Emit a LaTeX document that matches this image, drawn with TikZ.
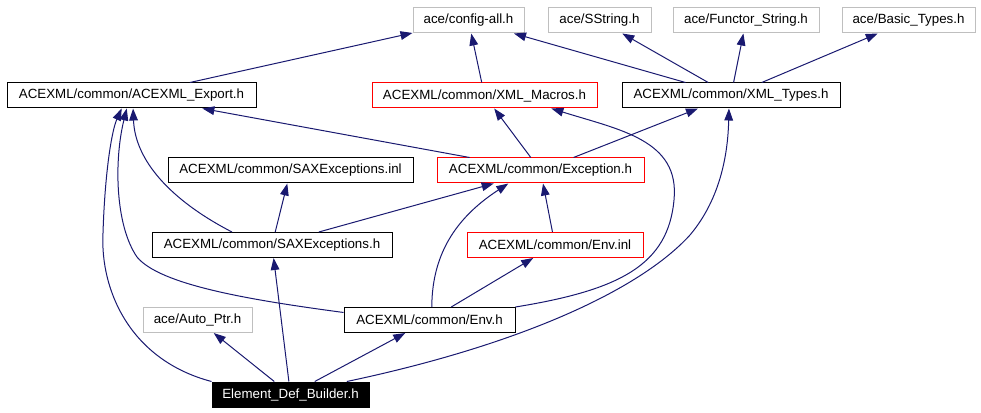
\documentclass[tikz,border=0pt]{standalone}
\usepackage{fontspec}
\setmainfont{Liberation Sans}
\usetikzlibrary{arrows.meta,positioning}
\definecolor{edgeblue}{RGB}{25,25,112}
\definecolor{extgray}{RGB}{191,191,191}
\tikzset{
    file/.style={
        rectangle,
        draw=black,
        fill=white,
        line width=0.75pt,
        minimum height=18.75pt,
        inner sep=0pt,
        font=\fontsize{10pt}{12pt}\selectfont,
    },
    ext/.style={
        file,
        draw=extgray,
    },
    bad/.style={
        file,
        draw=red,
    },
    root/.style={
        file,
        fill=black,
        text=white,
    },
    bw/.style={
        minimum width=#1*0.75pt
    },
    dep/.style={
        draw=edgeblue,
        -{Triangle[length=9pt,width=6.5pt]},
        line width=0.75pt,
    },
    every edge/.style={
        dep
    },
}

\begin{document}
\begin{tikzpicture}[x=0.75pt,y=-0.75pt]
    \useasboundingbox (0,0) rectangle (981,413);

    % included files
    \node [ext, bw=111] (Cfg) at (468.5,20.5) {ace/config-all.h};
    \node [ext, bw=103] (SStr) at (599.5,20.5) {ace/SString.h};
    \node [ext, bw=146] (Fun) at (746,20.5) {ace/Functor\_String.h};
    \node [ext, bw=133] (Basic) at (908.5,20.5) {ace/Basic\_Types.h};

    \node [file, bw=249] (Exp) at (131.5,95.5) {ACEXML/common/ACEXML\_Export.h};
    \node [bad, bw=225] (Mac) at (484.5,95.5) {ACEXML/common/XML\_Macros.h};
    \node [file, bw=218] (Typ) at (731,95.5) {ACEXML/common/XML\_Types.h};

    \node [file, bw=245] (SaxInl) at (290.5,170.5) {ACEXML/common/SAXExceptions.inl};
    \node [bad, bw=207] (Exc) at (540.5,170.5) {ACEXML/common/Exception.h};

    \node [file, bw=240] (SaxH) at (272,245) {ACEXML/common/SAXExceptions.h};
    \node [bad, bw=176] (EnvInl) at (555,245) {ACEXML/common/Env.inl};

    \node [ext, bw=109] (Auto) at (197.5,320) {ace/Auto\_Ptr.h};
    \node [file, bw=171] (EnvH) at (429.5,320) {ACEXML/common/Env.h};

    \node [root, bw=157] (Edb) at (290.5,394.5) {Element\_Def\_Builder.h};

    % straight dependencies
    \draw (Exp) edge (Cfg);
    \draw (Mac) edge (Cfg);
    \draw (Typ) edge (Cfg);
    \draw (Typ) edge (SStr);
    \draw (Typ) edge (Fun);
    \draw (Typ) edge (Basic);
    \draw (Exc) edge (Exp);
    \draw (Exc) edge (Mac);
    \draw (Exc) edge (Typ);
    \draw (SaxH) edge (SaxInl);
    \draw (SaxH) edge (Exc);
    \draw (EnvInl) edge (Exc);
    \draw (EnvH) edge (EnvInl);
    \draw (Edb) edge (Auto);
    \draw (Edb) edge (SaxH);
    \draw (Edb) edge (EnvH);

    % curved dependencies
    \draw [dep] (SaxH.162) .. controls (170,200) and (135,160) .. (Exp.-83);
    \draw [dep] (EnvH.175) .. controls (250,300) and (160,285) .. (137,257)
        .. controls (115,225) and (114,160) .. (Exp.-110);
    \draw [dep] (Edb.north west) .. controls (130,360) and (100,290) .. (103,233)
        .. controls (105,170) and (112,130) .. (Exp.-127);
    \draw [dep] (EnvH.80) .. controls (432,250) and (460,215) .. (Exc.-158);
    \draw [dep] (EnvH.north east) .. controls (620,290) and (668,265) .. (674,200)
        .. controls (680,140) and (620,130) .. (Mac.-11);
    \draw [dep] (Edb.13) .. controls (520,345) and (640,290) .. (690,235)
        .. controls (722,197) and (728,150) .. (Typ.-99);
\end{tikzpicture}
\end{document}
